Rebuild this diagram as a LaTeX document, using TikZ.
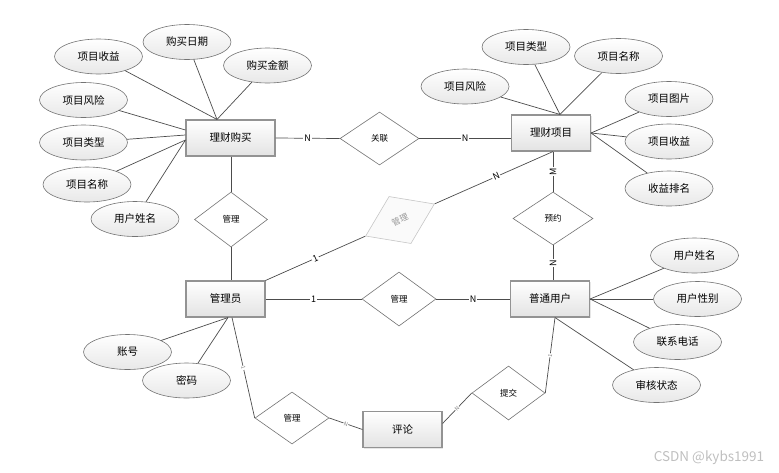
\documentclass[tikz,border=0pt]{standalone}
\usepackage{fontspec}
\setmainfont{Noto Sans CJK SC}
\usepackage{tikz}
\usetikzlibrary{shapes,shapes.geometric,shadows,positioning}
\tikzstyle{entity} = [rectangle, minimum width=79pt, minimum height=36pt, text centered, draw=gray!85, line width=1.1pt, top color=white, bottom color=gray!22, drop shadow={shadow xshift=1pt, shadow yshift=-1pt, opacity=0.2}, font=\fontsize{10.5}{12}\selectfont]
\tikzstyle{attr} = [ellipse, minimum width=88pt, minimum height=35pt, inner sep=0pt, text centered, draw=gray!90!black, line width=0.6pt, top color=white, bottom color=gray!18, font=\fontsize{10.5}{12}\selectfont]
\tikzstyle{relation} = [diamond, minimum width=74pt, minimum height=54pt, inner sep=0pt, text centered, draw=gray!90!black, line width=0.6pt, fill=white, font=\fontsize{8.5}{10}\selectfont]
\tikzstyle{conn} = [draw=black!70, line width=0.7pt]
\tikzstyle{card} = [fill=white, inner sep=1pt, font=\fontsize{9}{10}\selectfont]
\tikzstyle{smallcard} = [fill=white, inner sep=0.5pt, text=gray, font=\fontsize{5.5}{6}\selectfont, sloped]

\begin{document}
\begin{tikzpicture}[x=1pt, y=-1pt]
	\useasboundingbox (0,0) rectangle (779,472);
	
	%entities
	\node[entity, minimum width=89pt] (buy) at (230.5,138) {理财购买};
	\node[entity] (item) at (551,133) {理财项目};
	\node[entity] (admin) at (225.5,299) {管理员};
	\node[entity] (user) at (550,299) {普通用户};
	\node[entity] (comment) at (402.5,429.5) {评论};
	
	%relations
	\node[relation, minimum width=73pt, minimum height=55pt] (manage1) at (231,219.5) {管理};
	\node[relation, minimum width=79pt, minimum height=53pt] (link) at (379.5,138.5) {关联};
	\node[relation, rotate=25, minimum width=76pt, minimum height=52pt, draw=gray!45, text=gray!80, fill=gray!4] (manage2) at (400,220) {管理};
	\node[relation, minimum width=80pt, minimum height=53pt] (reserve) at (553,218.5) {预约};
	\node[relation] (manage3) at (399,299) {管理};
	\node[relation, minimum width=73pt] (submit) at (508.5,393) {提交};
	\node[relation, minimum height=52pt] (manage4) at (292,418) {管理};
	
	%attributes of buy
	\node[attr] (b1) at (98.5,56.5) {项目收益};
	\node[attr] (b2) at (187,42) {购买日期};
	\node[attr] (b3) at (267.5,65.5) {购买金额};
	\node[attr] (b4) at (83.5,100) {项目风险};
	\node[attr] (b5) at (83.5,142.5) {项目类型};
	\node[attr] (b6) at (87,184.5) {项目名称};
	\node[attr] (b7) at (135,219) {用户姓名};
	
	%attributes of item
	\node[attr] (i1) at (526,47) {项目类型};
	\node[attr] (i2) at (618.5,56) {项目名称};
	\node[attr] (i3) at (465,86.5) {项目风险};
	\node[attr] (i4) at (669,99) {项目图片};
	\node[attr] (i5) at (669,141.5) {项目收益};
	\node[attr] (i6) at (669,188.5) {收益排名};
	
	%attributes of admin
	\node[attr] (a1) at (127.5,352) {账号};
	\node[attr] (a2) at (186.5,380.5) {密码};
	
	%attributes of user
	\node[attr] (u1) at (694.5,255.5) {用户姓名};
	\node[attr] (u2) at (697.5,299) {用户性别};
	\node[attr] (u3) at (677.5,342) {联系电话};
	\node[attr] (u4) at (656.5,385) {审核状态};
	
	\coordinate (buytop) at ([xshift=-13.5pt]buy.north);
	\coordinate (itemtop) at ([xshift=9pt]item.north);
	\coordinate (adminbot) at ([xshift=2.5pt]admin.south);
	\coordinate (userbot) at ([xshift=5pt]user.south);
	
	%attribute lines
	\draw[conn] (b1) -- (buytop);
	\draw[conn] (b2) -- (buytop);
	\draw[conn] (b3) -- (buytop);
	\draw[conn] (b4) -- ([yshift=8pt]buy.west);
	\draw[conn] (b5) -- ([yshift=3pt]buy.west);
	\draw[conn] (b6) -- ([yshift=-2pt]buy.west);
	\draw[conn] (b7) -- ([yshift=-2pt]buy.west);
	\draw[conn] (i1) -- (itemtop);
	\draw[conn] (i2) -- (itemtop);
	\draw[conn] (i3) -- (itemtop);
	\draw[conn] (item.east) -- (i4);
	\draw[conn] (item.east) -- (i5);
	\draw[conn] (item.east) -- (i6);
	\draw[conn] (adminbot) -- (a1);
	\draw[conn] (adminbot) -- (a2);
	\draw[conn] (user.east) -- (u1);
	\draw[conn] (user.east) -- (u2);
	\draw[conn] (user.east) -- (u3);
	\draw[conn] (userbot) -- (u4);
	
	%relation lines
	\draw[conn] (buy.south -| manage1.north) -- (manage1.north);
	\draw[conn] (manage1.south) -- (manage1.south |- admin.north);
	\draw[conn] (buy.east) -- node[card] {N} (link.west);
	\draw[conn] (link.east) -- node[card] {N} (link.east -| item.west);
	\draw[conn] (admin.north east) -- node[card, sloped] {1} (manage2.west);
	\draw[conn] (manage2.east) -- node[card, sloped, pos=0.52] {N} ([xshift=2pt]item.south);
	\draw[conn] (reserve.north |- item.south) -- node[card, rotate=90] {M} (reserve.north);
	\draw[conn] (reserve.south) -- node[card, rotate=90] {N} (reserve.south |- user.north);
	\draw[conn] (admin.east) -- node[card] {1} (manage3.west);
	\draw[conn] (manage3.east) -- node[card] {N} (user.west);
	\draw[conn] ([xshift=6.5pt]admin.south) -- node[smallcard] {1} (manage4.west);
	\draw[conn] (manage4.east) -- node[smallcard] {N} (comment.west);
	\draw[conn] ([yshift=6pt]comment.east) -- node[smallcard] {N} (submit.west);
	\draw[conn] (submit.east) -- node[smallcard] {1} (userbot);
	
	\node[text=gray!50, font=\fontsize{13.5}{15}\selectfont] (mark) at (709,458) {CSDN @kybs1991};
\end{tikzpicture}
\end{document}
